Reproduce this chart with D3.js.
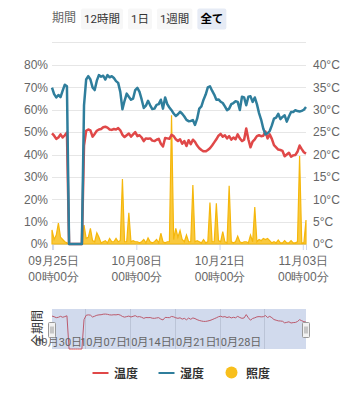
<!DOCTYPE html>
<html>
<head>
<meta charset="utf-8">
<script src="https://cdn.jsdelivr.net/npm/d3@7"></script>
<style>
  body { margin: 0; background: #fff; }
  svg { display: block; font-family: Roboto, "Noto Sans CJK JP", sans-serif; }
</style>
</head>
<body>
<div id="chart"></div>
<script>
// --- data (one sample every 8 hours) ---
const startTime = new Date(2023, 8, 24, 20, 0);
const stepHours = 8;

// 温度 (°C, right axis)
const temperature = [
  24.7, 24.2, 23.5, 23.8, 24.5, 23.8, 24.3, 24.9,
  0, 0, 0, 0, 0, 0, 0,
  22.0, 25.3, 25.6, 25.4, 24.0, 24.6, 25.3, 25.6, 25.7, 26.1,
  26.2, 26.0, 25.6, 25.5, 25.7, 25.6, 25.9, 25.4, 24.4, 23.9,
  24.3, 24.7, 24.0, 24.5, 25.0, 24.1, 24.3, 23.8, 23.0, 23.6,
  23.5, 23.6, 23.1, 23.0, 23.3, 23.5, 22.4, 21.8, 23.7, 23.6,
  23.5, 24.4, 24.1, 23.4, 23.0, 23.4, 22.4, 23.0, 21.9, 23.2,
  22.3, 23.3, 22.8, 22.0, 21.4, 21.0, 20.7, 20.7, 21.0, 21.4,
  22.0, 22.7, 23.4, 24.2, 24.6, 24.0, 24.3, 23.6, 24.1, 23.3,
  23.8, 23.4, 24.5, 23.6, 23.0, 23.3, 25.8, 23.4, 21.6, 22.9,
  23.4, 24.1, 24.3, 24.1, 24.2, 25.1, 23.6, 24.5, 23.5, 22.1,
  21.6, 21.1, 21.0, 20.8, 19.6, 20.0, 20.4, 19.5, 19.8, 19.9,
  20.6, 22.0, 21.2, 20.5, 20.2
];

// 湿度 (%, left axis)
const humidity = [
  69.9, 67.0, 65.5, 66.6, 65.6, 68.5, 71.2, 70.5,
  0, 0, 0, 0, 0, 0, 0,
  62.0, 73.5, 75.0, 73.5, 70.0, 68.8, 73.0, 75.5, 74.8, 75.2,
  73.5, 75.5, 74.5, 75.0, 74.2, 72.8, 72.0, 68.0, 60.2, 64.0,
  67.2, 65.8, 64.5, 65.0, 68.8, 69.8, 68.0, 64.6, 60.8, 61.8,
  64.0, 62.0, 60.3, 60.5, 62.2, 62.5, 64.5, 60.5, 65.5, 62.5,
  61.0, 59.8, 58.3, 57.2, 58.0, 59.1, 58.2, 57.0, 55.5, 54.9,
  55.0, 55.4, 53.2, 56.0, 60.5, 61.5, 64.5, 66.8, 70.0, 70.5,
  68.5, 66.8, 64.5, 64.6, 63.6, 63.0, 61.5, 59.8, 60.5, 62.5,
  63.0, 63.8, 63.5, 59.9, 65.8, 65.5, 62.0, 65.8, 66.0, 63.5,
  65.5, 62.5, 58.5, 55.5, 51.5, 49.0, 49.5, 50.5, 53.0, 56.0,
  56.5, 58.2, 55.8, 56.8, 57.5, 54.7, 57.0, 59.0, 59.0, 59.8,
  59.4, 59.2, 59.5, 60.0, 61.2
];

// 照度 (left axis scale)
const illuminance = [
  6.3, 2.0, 4.0, 9.3, 3.0, 2.0, 1.0, 0.5,
  0, 0, 0, 0, 0, 0, 0,
  8.5, 2.5, 3.0, 7.0, 1.5, 1.0, 5.0, 3.0, 0.5, 1.0,
  1.5, 0.5, 2.5, 1.0, 1.0, 2.5, 1.0, 1.5, 29.0, 1.0,
  1.0, 14.0, 1.0, 1.5, 1.0, 1.0, 0.5, 1.0, 2.0, 0.5,
  2.7, 1.0, 0.5, 1.0, 2.0, 0.5, 4.8, 1.0, 0.5, 1.0,
  1.0, 57.5, 2.0, 7.0, 3.0, 6.0, 2.0, 1.0, 4.0, 1.0,
  1.0, 26.4, 1.0, 1.5, 1.0, 0.5, 2.0, 0.5, 1.0, 18.5,
  1.0, 1.0, 18.2, 1.5, 1.0, 5.5, 1.0, 0.5, 26.0, 1.0,
  0.5, 1.0, 3.5, 1.0, 0.5, 1.0, 1.0, 0.5, 4.0, 1.0,
  16.5, 1.0, 2.0, 1.5, 2.5, 2.0, 2.5, 1.5, 0.5, 1.0,
  0.5, 1.8, 0.5, 0.5, 1.5, 0.5, 0.5, 1.5, 0.5, 0.5,
  1.0, 39.3, 0.5, 0.5, 10.7
];

const pctTicks = [0, 10, 20, 30, 40, 50, 60, 70, 80];
const tempTicks = [0, 5, 10, 15, 20, 25, 30, 35, 40];
const xTickDates = [new Date(2023, 8, 25), new Date(2023, 9, 8), new Date(2023, 9, 21), new Date(2023, 10, 3)];
const navTickDates = [new Date(2023, 8, 30), new Date(2023, 9, 7), new Date(2023, 9, 14), new Date(2023, 9, 21), new Date(2023, 9, 28)];
const rangeButtons = ["12時間", "1日", "1週間", "全て"];
const selectedButton = 3;
const seriesNames = ["温度", "湿度", "照度"];
const colors = { temp: "#e04848", hum: "#2f7e9c", lux: "#f8bf1c" };

// --- layout ---
const width = 361, height = 400;
const plot = { left: 52, right: 306, top: 65, bottom: 244 };
const nav = { top: 309, bottom: 349 };

const times = temperature.map((_, i) => new Date(startTime.getTime() + i * stepHours * 3600e3));
const rows = times.map((t, i) => ({ t, temp: temperature[i], hum: humidity[i], lux: illuminance[i] }));

const svg = d3.select("#chart").append("svg").attr("width", width).attr("height", height);

// range selector
svg.append("text")
  .attr("x", 52).attr("y", 22)
  .attr("font-size", "12px").attr("fill", "#666")
  .text("期間");

let bx = 81;
rangeButtons.forEach((label, i) => {
  const g = svg.append("g");
  const rect = g.append("rect")
    .attr("y", 8.5).attr("height", 21).attr("rx", 2)
    .attr("fill", i === selectedButton ? "#e6ebf5" : "#f7f7f7");
  const t = g.append("text")
    .attr("y", 23)
    .attr("font-size", "11.5px")
    .attr("font-weight", i === selectedButton ? "bold" : "normal")
    .attr("fill", i === selectedButton ? "#000" : "#333")
    .text(label);
  const w = t.node().getComputedTextLength() + 6;
  rect.attr("x", bx).attr("width", w);
  t.attr("x", bx + 3);
  bx += w + 5;
});

svg.append("line")
  .attr("x1", plot.left).attr("x2", plot.right)
  .attr("y1", 42.5).attr("y2", 42.5)
  .attr("stroke", "#e6e6e6");

// scales
const x = d3.scaleTime().domain(d3.extent(times)).range([plot.left, plot.right]);
const yPct = d3.scaleLinear().domain([0, 80]).range([plot.bottom, plot.top]);
const yTemp = d3.scaleLinear().domain([0, 40]).range([plot.bottom, plot.top]);

// grid
svg.append("g")
  .selectAll("line")
  .data(pctTicks)
  .enter()
  .append("line")
  .attr("x1", plot.left).attr("x2", plot.right)
  .attr("y1", (d) => Math.round(yPct(d)) + 0.5)
  .attr("y2", (d) => Math.round(yPct(d)) + 0.5)
  .attr("stroke", "#e6e6e6");

// y axes
const leftAxis = svg.append("g")
  .attr("transform", `translate(${plot.left},0)`)
  .call(d3.axisLeft(yPct).tickValues(pctTicks).tickFormat((d) => d + "%").tickSize(0).tickPadding(4));
const rightAxis = svg.append("g")
  .attr("transform", `translate(${plot.right},0)`)
  .call(d3.axisRight(yTemp).tickValues(tempTicks).tickFormat((d) => d + "°C").tickSize(0).tickPadding(7));
[leftAxis, rightAxis].forEach((a) => {
  a.select(".domain").remove();
  a.selectAll("text").attr("font-size", "12px").attr("fill", "#666").attr("font-family", null);
});

// x axis
const xAxis = svg.append("g")
  .attr("transform", `translate(0,${plot.bottom})`)
  .call(d3.axisBottom(x).tickValues(xTickDates).tickSize(6).tickFormat(""));
xAxis.select(".domain").attr("stroke", "#ccd6eb");
xAxis.selectAll(".tick line").attr("stroke", "#ccd6eb");
xAxis.selectAll(".tick text").remove();
xAxis.selectAll(".tick").each(function (d) {
  const t = d3.select(this).append("text")
    .attr("text-anchor", "middle")
    .attr("font-size", "12px")
    .attr("fill", "#666");
  t.append("tspan").attr("x", 0).attr("y", 21).text(d3.timeFormat("%m月%d日")(d));
  t.append("tspan").attr("x", 0).attr("y", 37).text(d3.timeFormat("%H時%M分")(d));
});

// series
const luxArea = d3.area()
  .x((d) => x(d.t))
  .y0(yPct(0))
  .y1((d) => yPct(d.lux));
svg.append("path")
  .datum(rows)
  .attr("d", luxArea)
  .attr("fill", colors.lux)
  .attr("fill-opacity", 0.85)
  .attr("stroke", "#f5b70c")
  .attr("stroke-width", 1.2);

const tempLine = d3.line().x((d) => x(d.t)).y((d) => yTemp(d.temp));
const humLine = d3.line().x((d) => x(d.t)).y((d) => yPct(d.hum));

svg.append("path")
  .datum(rows)
  .attr("d", tempLine)
  .attr("fill", "none")
  .attr("stroke", colors.temp)
  .attr("stroke-width", 2.5)
  .attr("stroke-linejoin", "round");

svg.append("path")
  .datum(rows)
  .attr("d", humLine)
  .attr("fill", "none")
  .attr("stroke", colors.hum)
  .attr("stroke-width", 2.5)
  .attr("stroke-linejoin", "round");

// navigator
const yNav = d3.scaleLinear().domain([0, 30]).range([nav.bottom, nav.top]);
const navG = svg.append("g");

navG.selectAll(".nav-grid")
  .data(navTickDates)
  .enter()
  .append("line")
  .attr("class", "nav-grid")
  .attr("x1", (d) => Math.round(x(d)) + 0.5)
  .attr("x2", (d) => Math.round(x(d)) + 0.5)
  .attr("y1", nav.top).attr("y2", nav.bottom)
  .attr("stroke", "#e0e0e0");

navG.append("path")
  .datum(rows)
  .attr("d", d3.line().x((d) => x(d.t)).y((d) => yNav(d.temp)))
  .attr("fill", "none")
  .attr("stroke", colors.temp)
  .attr("stroke-width", 1);

navG.append("rect")
  .attr("x", plot.left).attr("y", nav.top)
  .attr("width", plot.right - plot.left).attr("height", nav.bottom - nav.top)
  .attr("fill", "rgba(102,133,194,0.3)");

navG.selectAll(".nav-label")
  .data(navTickDates)
  .enter()
  .append("text")
  .attr("class", "nav-label")
  .attr("x", (d) => x(d) - 3)
  .attr("y", 346)
  .attr("text-anchor", "end")
  .attr("font-size", "11px")
  .attr("fill", "#666")
  .text((d) => d3.timeFormat("%m月%d日")(d));

svg.append("text")
  .attr("transform", "translate(42,328) rotate(-90)")
  .attr("text-anchor", "middle")
  .attr("font-size", "12px")
  .attr("fill", "#333")
  .text("全期間");

// handles
[plot.left, plot.right].forEach((hx) => {
  const g = navG.append("g").attr("transform", `translate(${Math.round(hx) - 3.5},322.5)`);
  g.append("rect").attr("width", 7).attr("height", 15).attr("rx", 1)
    .attr("fill", "#f2f2f2").attr("stroke", "#999");
  [2.5, 4.5].forEach((lx) => {
    g.append("line").attr("x1", lx).attr("x2", lx).attr("y1", 4).attr("y2", 11).attr("stroke", "#999");
  });
});

// legend
const legend = svg.append("g").attr("font-size", "12px").attr("font-weight", "bold").attr("fill", "#333");
const legendItems = [
  { name: seriesNames[0], color: colors.temp, type: "line", x: 92.5 },
  { name: seriesNames[1], color: colors.hum, type: "line", x: 158.5 },
  { name: seriesNames[2], color: colors.lux, type: "dot", x: 225.5 }
];
legendItems.forEach((it) => {
  if (it.type === "line") {
    legend.append("line")
      .attr("x1", it.x).attr("x2", it.x + 16)
      .attr("y1", 373).attr("y2", 373)
      .attr("stroke", it.color).attr("stroke-width", 2);
  } else {
    legend.append("circle")
      .attr("cx", it.x + 6).attr("cy", 372.5).attr("r", 6)
      .attr("fill", it.color);
  }
  legend.append("text")
    .attr("x", it.x + (it.type === "line" ? 21.5 : 20.5))
    .attr("y", 377.5)
    .text(it.name);
});
</script>
</body>
</html>
